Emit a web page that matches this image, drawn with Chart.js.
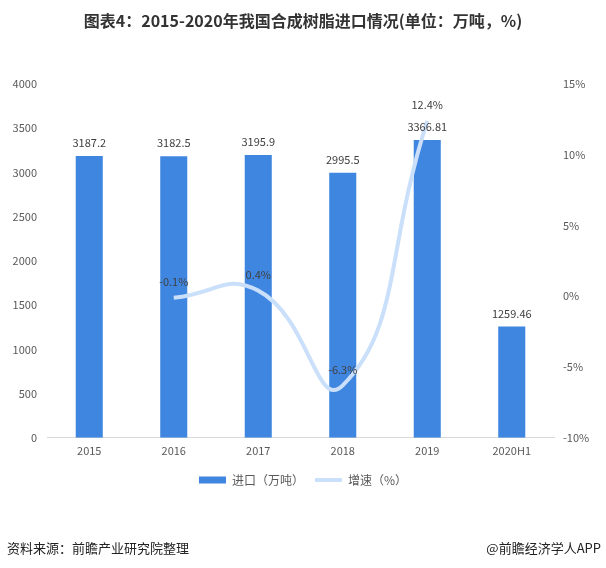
<!DOCTYPE html>
<html>
<head>
<meta charset="utf-8">
<script src="https://cdn.jsdelivr.net/npm/chart.js@4"></script>
<style>
  body { margin: 0; background: #fff; }
  #wrap { position: relative; width: 606px; height: 568px; }
  #title { position: absolute; left: 0; top: 8px; width: 606px; text-align: center;
    font: bold 16px "Noto Sans CJK SC", sans-serif; color: #333; }
  .foot { position: absolute; top: 538px; font: 13px "Noto Sans CJK SC", sans-serif; color: #222; }
</style>
</head>
<body>
<div id="wrap">
  <canvas id="chart" width="606" height="568"></canvas>
  <div id="title">图表4：2015-2020年我国合成树脂进口情况(单位：万吨，%)</div>
  <div class="foot" style="left:7px">资料来源：前瞻产业研究院整理</div>
  <div class="foot" style="right:5px">@前瞻经济学人APP</div>
</div>
<script>
const years = ['2015', '2016', '2017', '2018', '2019', '2020H1'];
const imports = [3187.2, 3182.5, 3195.9, 2995.5, 3366.81, 1259.46];
const growth = [null, -0.1, 0.4, -6.3, 12.4, null];
const leftTicks = [0, 500, 1000, 1500, 2000, 2500, 3000, 3500, 4000];

const textColor = '#595959';
const font = { family: '"Noto Sans CJK SC", sans-serif', size: 11 };

// value labels above bars and line points
const valueLabels = {
    id: 'valueLabels',
    afterDatasetsDraw(chart) {
        const ctx = chart.ctx;
        ctx.save();
        ctx.font = '11px "Noto Sans CJK SC", sans-serif';
        ctx.fillStyle = '#404040';
        ctx.textAlign = 'center';
        ctx.textBaseline = 'middle';
        chart.getDatasetMeta(0).data.forEach((bar, i) => {
            ctx.fillText(String(imports[i]), bar.x, bar.y - 13);
        });
        chart.getDatasetMeta(1).data.forEach((pt, i) => {
            if (growth[i] === null) return;
            ctx.fillText(growth[i].toFixed(1) + '%', pt.x, pt.y - 16);
        });
        ctx.restore();
    }
};

new Chart(document.getElementById('chart'), {
    data: {
        labels: years,
        datasets: [
            {
                type: 'bar',
                label: '进口（万吨）',
                data: imports,
                backgroundColor: '#3f86e0',
                yAxisID: 'y',
                barPercentage: 0.64,
                categoryPercentage: 0.5,
                pointStyle: 'rect',
                order: 2
            },
            {
                type: 'line',
                label: '增速（%）',
                data: growth,
                borderColor: '#cadffa',
                backgroundColor: '#cadffa',
                borderWidth: 4,
                tension: 0.5,
                pointRadius: 0,
                yAxisID: 'y1',
                pointStyle: 'line',
                order: 1
            }
        ]
    },
    options: {
        responsive: false,
        animation: false,
        layout: { padding: { top: 84, bottom: 72, left: 0, right: 0 } },
        plugins: {
            title: { display: false },
            tooltip: { enabled: false },
            legend: {
                position: 'bottom',
                labels: {
                    usePointStyle: true,
                    pointStyleWidth: 27,
                    boxHeight: 7,
                    color: textColor,
                    font: { family: font.family, size: 12 },
                    padding: 11,
                    sort: (a, b) => a.datasetIndex - b.datasetIndex
                }
            }
        },
        scales: {
            x: {
                grid: { display: false, drawTicks: false },
                border: { color: '#d9d9d9' },
                ticks: { color: textColor, font: font, padding: 6 }
            },
            y: {
                position: 'left',
                min: 0,
                max: 4000,
                afterBuildTicks: s => { s.ticks = leftTicks.map(v => ({ value: v })); },
                afterFit: s => { s.width = 47; },
                grid: { display: false, drawTicks: false },
                border: { display: false },
                ticks: { color: textColor, font: font, padding: 10, callback: v => String(v) }
            },
            y1: {
                position: 'right',
                min: -10,
                max: 15,
                afterFit: s => { s.width = 52; },
                grid: { display: false, drawTicks: false },
                border: { display: false },
                ticks: { stepSize: 5, color: textColor, font: font, padding: 9,
                    callback: v => v + '%' }
            }
        }
    },
    plugins: [valueLabels]
});
</script>
</body>
</html>
